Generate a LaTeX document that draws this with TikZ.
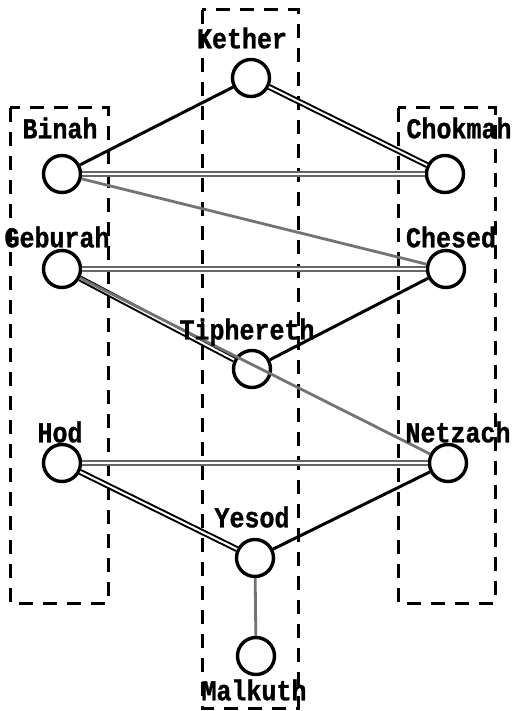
\documentclass[tikz,border=0pt]{standalone}
\usepackage{graphicx}
\usepackage{fontspec}
\newfontfamily\typefont{Liberation Mono}[BoldFeatures={FakeBold=1.2}]
\newcommand\twtext[1]{\scalebox{1}[1.15]{#1}}
\begin{document}
\begin{tikzpicture}[x=1pt,y=-1pt,
  sefira/.style={circle,draw=black,line width=3.4pt,minimum size=37pt,inner sep=0pt,fill=white},
  lbl/.style={font=\typefont\bfseries\fontsize{25}{25}\selectfont,inner sep=0pt,anchor=center},
  pillar/.style={draw=black,line width=3pt,dash pattern=on 14pt off 10pt},
  solidpath/.style={draw=black,line width=3pt},
  dblpath/.style={draw=black,double=white,line width=2pt,double distance=2pt},
  graydbl/.style={draw=black!60,double=white,line width=1.9pt,double distance=1.6pt},
  graypath/.style={draw=black!55,line width=2.8pt}]
\useasboundingbox (0,0) rectangle (516,711);
\fill[white] (0,0) rectangle (516,711);
% pillars
\draw[pillar] (202,10) rectangle (298,708);
\draw[pillar] (10,108) rectangle (108,603);
\draw[pillar] (398,108) rectangle (495,603);
% sefirot
\node[sefira] (kether) at (251,78) {};
\node[sefira] (binah) at (62,174) {};
\node[sefira] (chokmah) at (445,174) {};
\node[sefira] (geburah) at (62,269) {};
\node[sefira] (chesed) at (446,269) {};
\node[sefira] (tiphereth) at (252,369) {};
\node[sefira] (hod) at (62,463) {};
\node[sefira] (netzach) at (448,463) {};
\node[sefira] (yesod) at (255,558) {};
\node[sefira] (malkuth) at (256,656) {};
% paths
\draw[solidpath] (kether) -- (binah);
\draw[dblpath] (kether) -- (chokmah);
\draw[graydbl] (binah) -- (chokmah);
\draw[graypath] (binah) -- (chesed);
\draw[graydbl] (geburah) -- (chesed);
\draw[dblpath] (geburah) -- (tiphereth);
\draw[solidpath] (tiphereth) -- (chesed);
\draw[graypath] (geburah) -- (netzach);
\draw[graydbl] (hod) -- (netzach);
\draw[dblpath] (hod) -- (yesod);
\draw[solidpath] (yesod) -- (netzach);
\draw[graypath] (yesod) -- (malkuth);
% labels
\node[lbl] (lk) at (242,38) {\twtext{Kether}};
\node[lbl] (lb) at (60,128) {\twtext{Binah}};
\node[lbl] (lc) at (459,128) {\twtext{Chokmah}};
\node[lbl] (lg) at (57,237) {\twtext{Geburah}};
\node[lbl] (lch) at (451,237) {\twtext{Chesed}};
\node[lbl] (lt) at (247,332) {\twtext{Tiphereth}};
\node[lbl] (lh) at (60,432) {\twtext{Hod}};
\node[lbl] (ln) at (458,432) {\twtext{Netzach}};
\node[lbl] (ly) at (252,517) {\twtext{Yesod}};
\node[lbl] (lm) at (254,690) {\twtext{Malkuth}};
\end{tikzpicture}
\end{document}
